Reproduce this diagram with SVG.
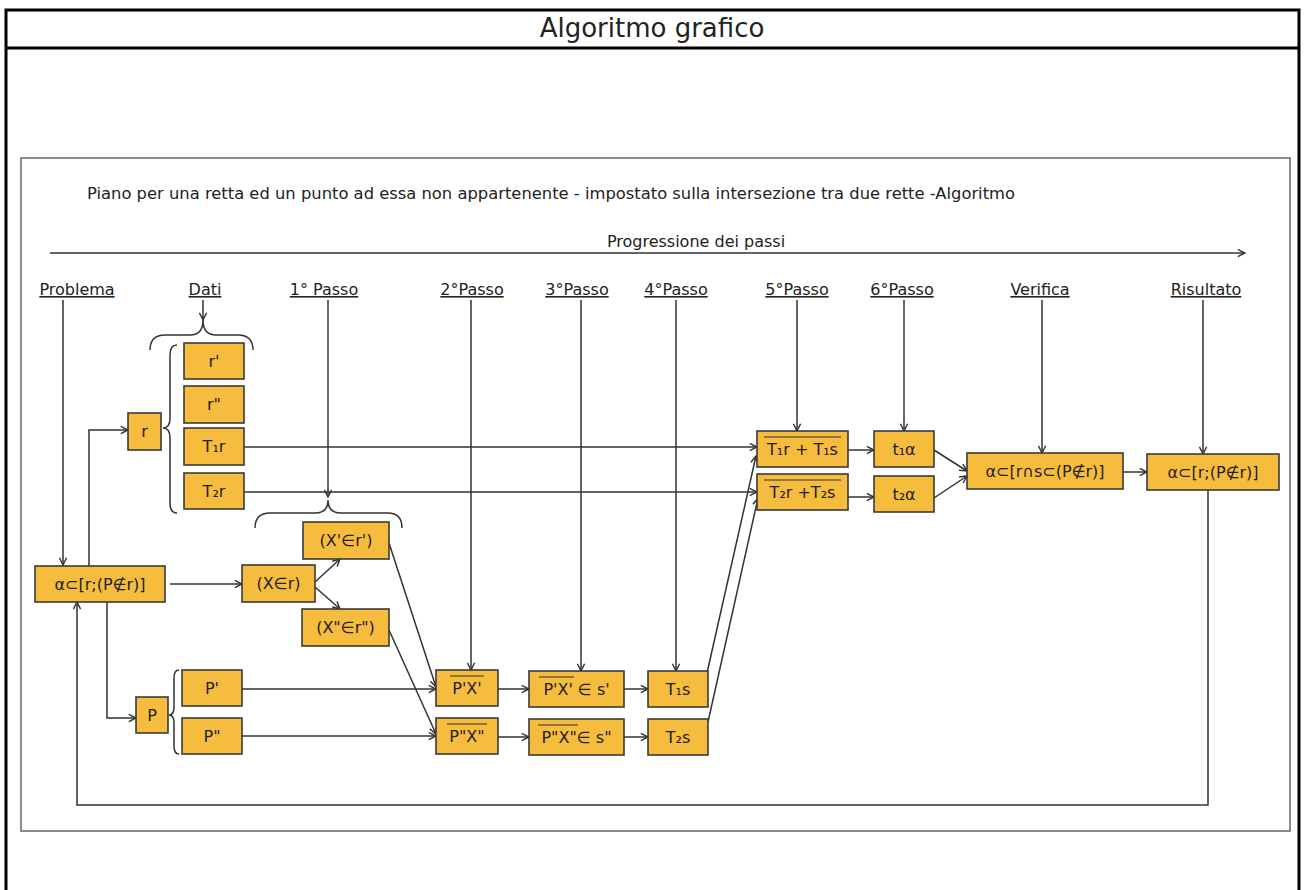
<svg xmlns="http://www.w3.org/2000/svg" width="1305" height="890" viewBox="0 0 1305 890">
<defs>
<marker id="ah" viewBox="0 0 10 10" refX="9" refY="5" markerWidth="9" markerHeight="9" markerUnits="userSpaceOnUse" orient="auto">
<path d="M1,1 L9,5 L1,9" fill="none" stroke="#333" stroke-width="1.6"/>
</marker>
<style>
.frame{fill:none;stroke:#000;stroke-width:3}
.scan{fill:none;stroke:#666;stroke-width:1.5}
.box rect{fill:#F6BC3E;stroke:#3a3a3a;stroke-width:1.6}
.box text{font-family:"DejaVu Sans",sans-serif;font-size:16px;fill:#222;text-anchor:middle}
.ov{stroke:#333;stroke-width:1.2}
.hdr{font-family:"DejaVu Sans",sans-serif;font-size:16px;fill:#222;text-anchor:middle;text-decoration:underline}
.c{fill:none;stroke:#333;stroke-width:1.5}
.ca{fill:none;stroke:#333;stroke-width:1.5;marker-end:url(#ah)}
.br{fill:none;stroke:#333;stroke-width:1.5}
.t{font-family:"DejaVu Sans",sans-serif;fill:#222}
</style>
</defs>
<rect width="1305" height="890" fill="#fff"/>
<g id="page">
<path class="frame" d="M6,890 V10 H1299 V890"/>
<line class="frame" x1="6" y1="48" x2="1299" y2="48"/>
<text class="t" x="652" y="37" font-size="26" text-anchor="middle" fill="#000">Algoritmo grafico</text>
<rect class="scan" x="21" y="158" width="1269" height="673"/>
<text class="t" x="87" y="199" font-size="15" textLength="928" lengthAdjust="spacingAndGlyphs">Piano per una retta ed un punto ad essa non appartenente - impostato sulla intersezione tra due rette -Algoritmo</text>
<text class="t" x="696" y="247" font-size="16" text-anchor="middle">Progressione dei passi</text>
</g>
<g id="headers">
<text class="hdr" x="77" y="295">Problema</text>
<text class="hdr" x="205" y="295">Dati</text>
<text class="hdr" x="324" y="295">1° Passo</text>
<text class="hdr" x="472" y="295">2°Passo</text>
<text class="hdr" x="577" y="295">3°Passo</text>
<text class="hdr" x="676" y="295">4°Passo</text>
<text class="hdr" x="797" y="295">5°Passo</text>
<text class="hdr" x="902" y="295">6°Passo</text>
<text class="hdr" x="1040" y="295">Verifica</text>
<text class="hdr" x="1206" y="295">Risultato</text>
</g>
<g id="braces">
<path class="br" d="M150,350 Q150,335 165,335 L190,335 Q203,335 203,320 Q203,335 216,335 L238,335 Q253,335 253,350"/>
<path class="br" d="M177,345 Q170,345 170,355 L170,418 Q170,428 163,428 Q170,428 170,438 L170,503 Q170,513 177,513"/>
<path class="br" d="M255,528 Q255,513 270,513 L315,513 Q328,513 328,500 Q328,513 341,513 L388,513 Q402,513 402,528"/>
<path class="br" d="M179,670 Q174,670 174,678 L174,707 Q174,715 169,715 Q174,715 174,723 L174,746 Q174,754 179,754"/>
</g>
<g id="connectors">
<line class="ca" x1="50" y1="253" x2="1245" y2="253"/>
<line class="ca" x1="63" y1="300" x2="63" y2="565"/>
<line class="ca" x1="203" y1="300" x2="203" y2="320"/>
<line class="ca" x1="328" y1="300" x2="328" y2="497"/>
<line class="ca" x1="471" y1="300" x2="471" y2="670"/>
<line class="ca" x1="581" y1="300" x2="581" y2="671"/>
<line class="ca" x1="676" y1="300" x2="676" y2="671"/>
<line class="ca" x1="797" y1="300" x2="797" y2="431"/>
<line class="ca" x1="904" y1="300" x2="904" y2="431"/>
<line class="ca" x1="1042" y1="300" x2="1042" y2="453"/>
<line class="ca" x1="1203" y1="300" x2="1203" y2="454"/>
<path class="ca" d="M89,566 V430 H128"/>
<path class="ca" d="M107,602 V718 H136"/>
<line class="ca" x1="170" y1="584" x2="242" y2="584"/>
<line class="ca" x1="315" y1="582" x2="340" y2="559"/>
<line class="ca" x1="315" y1="587" x2="340" y2="609"/>
<line class="ca" x1="389" y1="543" x2="436" y2="687"/>
<line class="ca" x1="389" y1="630" x2="436" y2="734"/>
<line class="ca" x1="242" y1="689" x2="436" y2="689"/>
<line class="ca" x1="242" y1="736" x2="436" y2="736"/>
<line class="ca" x1="498" y1="689" x2="529" y2="689"/>
<line class="ca" x1="498" y1="737" x2="529" y2="737"/>
<line class="ca" x1="624" y1="689" x2="648" y2="689"/>
<line class="ca" x1="624" y1="737" x2="648" y2="737"/>
<line class="ca" x1="707" y1="673" x2="756" y2="456"/>
<line class="ca" x1="708" y1="722" x2="758" y2="498"/>
<line class="ca" x1="244" y1="447" x2="757" y2="447"/>
<line class="ca" x1="244" y1="492" x2="757" y2="492"/>
<line class="ca" x1="848" y1="450" x2="874" y2="450"/>
<line class="ca" x1="848" y1="497" x2="874" y2="497"/>
<line class="ca" x1="934" y1="450" x2="967" y2="471"/>
<line class="ca" x1="934" y1="498" x2="967" y2="476"/>
<line class="ca" x1="1123" y1="472" x2="1147" y2="472"/>
<path class="ca" d="M1208,490 V805 H77 V602"/>
</g>
<g id="n_alpha" class="box"><rect x="35" y="566" width="130" height="36"/><text x="100" y="590">α⊂[r;(P∉r)]</text></g>
<g id="n_r" class="box"><rect x="128" y="413" width="33" height="37"/><text x="144.5" y="437">r</text></g>
<g id="n_r1" class="box"><rect x="184" y="343" width="60" height="36"/><text x="214" y="367">r'</text></g>
<g id="n_r2" class="box"><rect x="184" y="386" width="60" height="37"/><text x="214" y="410">r"</text></g>
<g id="n_T1r" class="box"><rect x="184" y="428" width="60" height="37"/><text x="214" y="452">T₁r</text></g>
<g id="n_T2r" class="box"><rect x="184" y="473" width="60" height="36"/><text x="214" y="497">T₂r</text></g>
<g id="n_P" class="box"><rect x="136" y="697" width="32" height="36"/><text x="152" y="721">P</text></g>
<g id="n_P1" class="box"><rect x="182" y="670" width="60" height="36"/><text x="212" y="694">P'</text></g>
<g id="n_P2" class="box"><rect x="182" y="718" width="60" height="36"/><text x="212" y="742">P"</text></g>
<g id="n_X" class="box"><rect x="242" y="565" width="73" height="37"/><text x="278.5" y="589">(X∈r)</text></g>
<g id="n_X1" class="box"><rect x="303" y="522" width="86" height="37"/><text x="346" y="546">(X'∈r')</text></g>
<g id="n_X2" class="box"><rect x="302" y="609" width="87" height="37"/><text x="345.5" y="633">(X"∈r")</text></g>
<g id="n_PX1" class="box"><rect x="436" y="670" width="62" height="36"/><text x="467" y="694">P'X'</text><line class="ov" x1="450" y1="676" x2="484" y2="676"/></g>
<g id="n_PX2" class="box"><rect x="436" y="718" width="62" height="36"/><text x="467" y="742">P"X"</text><line class="ov" x1="447" y1="724" x2="487" y2="724"/></g>
<g id="n_PXs1" class="box"><rect x="529" y="671" width="95" height="36"/><text x="576.5" y="695">P'X' ∈ s'</text><line class="ov" x1="539" y1="677" x2="574" y2="677"/></g>
<g id="n_PXs2" class="box"><rect x="529" y="719" width="95" height="36"/><text x="576.5" y="743">P"X"∈ s"</text><line class="ov" x1="538" y1="725" x2="578" y2="725"/></g>
<g id="n_T1s" class="box"><rect x="648" y="671" width="60" height="36"/><text x="678" y="695">T₁s</text></g>
<g id="n_T2s" class="box"><rect x="648" y="719" width="60" height="36"/><text x="678" y="743">T₂s</text></g>
<g id="n_T1rs" class="box"><rect x="757" y="431" width="91" height="36"/><text x="802.5" y="455">T₁r + T₁s</text><line class="ov" x1="764" y1="437" x2="841" y2="437"/></g>
<g id="n_T2rs" class="box"><rect x="757" y="474" width="91" height="36"/><text x="802.5" y="498">T₂r +T₂s</text><line class="ov" x1="764" y1="480" x2="841" y2="480"/></g>
<g id="n_t1a" class="box"><rect x="874" y="431" width="60" height="36"/><text x="904" y="455">t₁α</text></g>
<g id="n_t2a" class="box"><rect x="874" y="476" width="60" height="36"/><text x="904" y="500">t₂α</text></g>
<g id="n_ver" class="box"><rect x="967" y="453" width="156" height="36"/><text x="1045" y="477">α⊂[r∩s⊂(P∉r)]</text></g>
<g id="n_ris" class="box"><rect x="1147" y="454" width="132" height="36"/><text x="1213" y="478">α⊂[r;(P∉r)]</text></g>
</svg>
